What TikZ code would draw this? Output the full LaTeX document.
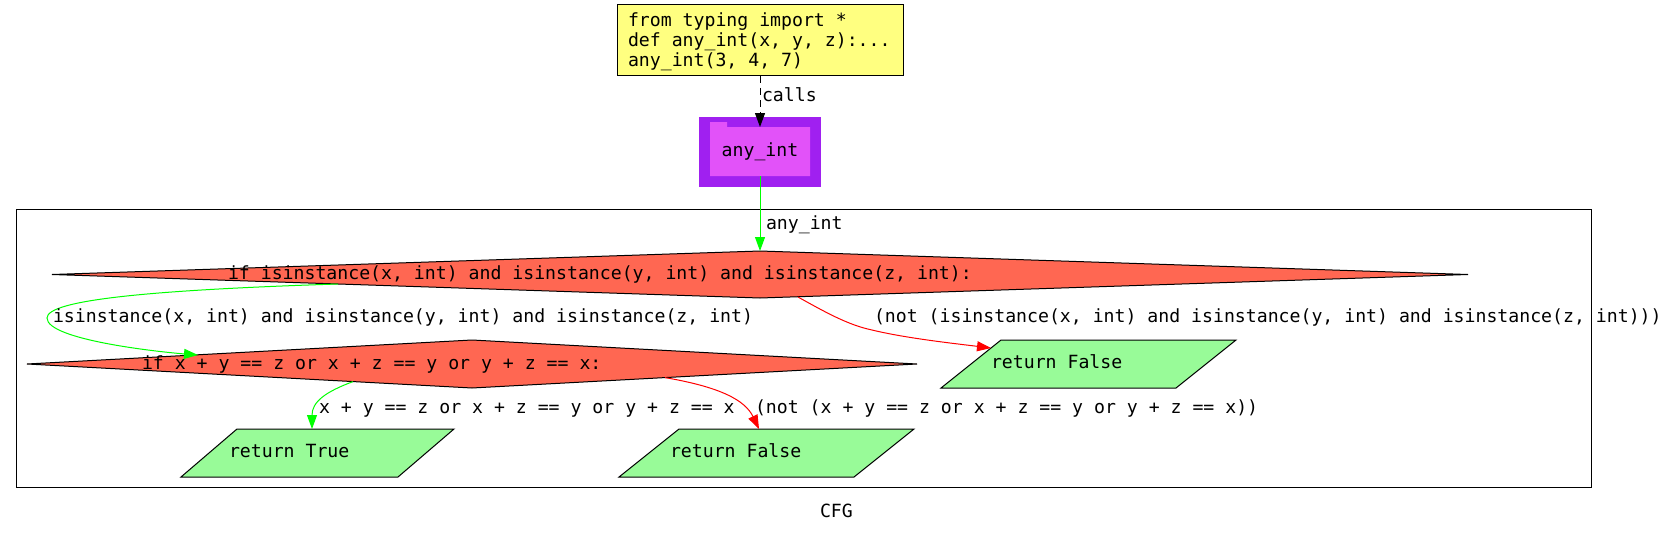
\documentclass[tikz,border=0pt]{standalone}
\usepackage{fontspec}
\setmonofont{DejaVu Sans Mono}
\usetikzlibrary{shapes.geometric,arrows.meta,calc}
\definecolor{ylw}{RGB}{255,255,128}
\definecolor{tom}{RGB}{255,103,82}
\definecolor{pgreen}{RGB}{152,251,152}
\definecolor{purp}{RGB}{160,32,240}
\definecolor{purpin}{RGB}{226,82,249}
\definecolor{egreen}{RGB}{0,255,0}
\definecolor{ered}{RGB}{255,0,0}
\tikzset{
  txtbase/.style={font=\ttfamily\fontsize{18.17}{20}\selectfont, inner sep=0pt, outer sep=0pt},
  txt/.style={txtbase, text height=13.6pt, text depth=3.6pt},
  dia/.style={shape=diamond, draw=black, fill=tom, inner sep=0pt, outer sep=0pt, line width=1pt},
  pbox/.style={shape=rectangle, inner sep=0pt, outer sep=0pt},
  para/.style={draw=black, fill=pgreen, line width=1pt},
  arr/.style={-{Triangle[length=14pt,width=10pt]}, line width=1pt},
}
\begin{document}
\begin{tikzpicture}[x=1pt,y=-1pt]
\useasboundingbox (0,0) rectangle (1671,535);
% yellow code box
\node[pbox, draw=black, fill=ylw, line width=1pt, minimum width=286pt, minimum height=71pt] (y1) at (760,40.5) {};
\node[txtbase, anchor=west, align=left] (y1t) at (628,41.5) {from typing import *\\def any\_int(x, y, z):...\\any\_int(3, 4, 7)};
% purple cluster
\fill[purp] (699,117) rectangle (821,187);
\node[pbox, minimum width=100pt, minimum height=49pt] (fn) at (760,151.5) {};
\fill[purpin] (710,122) -- (727,122) -- (727,127) -- (810,127) -- (810,176) -- (710,176) -- cycle;
\node[txt] (fnt) at (760,151) {any\_int};
% cluster any_int
\draw[line width=1pt] (16,209) rectangle (1591,487);
\node[txt, anchor=west] (clt) at (766,224) {any\_int};
% diamonds
\node[dia, minimum width=1416pt, minimum height=47pt] (d1) at (760,274.5) {};
\node[txt, anchor=west] (d1t) at (228,274) {if isinstance(x, int) and isinstance(y, int) and isinstance(z, int):};
\node[dia, minimum width=890pt, minimum height=48pt] (d2) at (472,364) {};
\node[txt, anchor=west] (d2t) at (142,364) {if x + y == z or x + z == y or y + z == x:};
% return nodes
\node[pbox, minimum width=273pt, minimum height=48pt] (rt) at (317.5,453) {};
\draw[para] ($(rt.north west)+(56,0)$) -- (rt.north east) -- ($(rt.south east)+(-56,0)$) -- (rt.south west) -- cycle;
\node[txt, anchor=west] (rtt) at (229,452) {return True};
\node[pbox, minimum width=295pt, minimum height=48pt] (rf) at (1088.5,364) {};
\draw[para] ($(rf.north west)+(60,0)$) -- (rf.north east) -- ($(rf.south east)+(-60,0)$) -- (rf.south west) -- cycle;
\node[txt, anchor=west] (rft) at (991,363) {return False};
\node[pbox, minimum width=295pt, minimum height=48pt] (rfb) at (766.5,453) {};
\draw[para] ($(rfb.north west)+(60,0)$) -- (rfb.north east) -- ($(rfb.south east)+(-60,0)$) -- (rfb.south west) -- cycle;
\node[txt, anchor=west] (rfbt) at (670,452) {return False};
% edges
\draw[arr, dash pattern=on 7pt off 5pt, black] (y1.south) -- (fn.north);
\node[txt, anchor=west] (callst) at (762,97) {calls};
\draw[arr, egreen] (fn.south) -- (d1.north);
\draw[arr, egreen] ($(d1.center)+(-422,9.5)$) .. controls (150,290) and (47,300) .. (47,318) .. controls (47,340) and (160,352) .. ($(d2.center)+(-274,-9)$);
\node[txt, anchor=west] (e1t) at (53,317) {isinstance(x, int) and isinstance(y, int) and isinstance(z, int)};
\draw[arr, ered] ($(d1.center)+(38,22.5)$) .. controls (825,312) and (848,325) .. (872,330) .. controls (905,338) and (950,343) .. ($(rf.north west)+(50,8)$);
\node[txt, anchor=west] (e2t) at (874,317) {(not (isinstance(x, int) and isinstance(y, int) and isinstance(z, int)))};
\draw[arr, egreen] ($(d2.center)+(-119,17.6)$) .. controls (325,392) and (312,402) .. ($(rt.north west)+(131,0)$);
\node[txt, anchor=west] (e3t) at (319,408) {x + y == z or x + z == y or y + z == x};
\draw[arr, ered] ($(d2.center)+(193,13.6)$) .. controls (720,387) and (745,400) .. ($(rfb.north west)+(140,0)$);
\node[txt, anchor=west] (e4t) at (755,408) {(not (x + y == z or x + z == y or y + z == x))};
\node[txt, anchor=west] (cfg) at (820,512) {CFG};
\end{tikzpicture}
\end{document}
